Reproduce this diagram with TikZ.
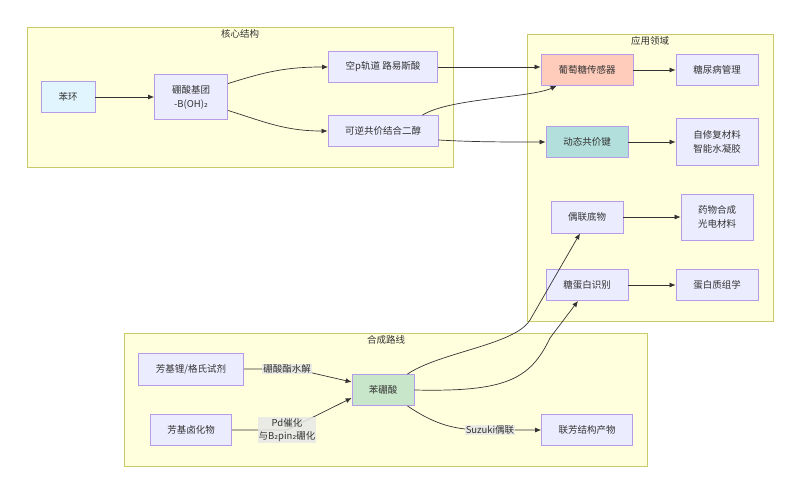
\documentclass[tikz,border=0pt]{standalone}
\usepackage{fontspec}
\setmainfont{Noto Sans CJK SC}
\newfontfamily\dvfam{DejaVu Sans}
\newcommand\subtwo{{\dvfam ₂}}
\usetikzlibrary{arrows.meta,calc}
\definecolor{clfill}{HTML}{FFFFDE}
\definecolor{clstroke}{HTML}{C9C96A}
\definecolor{ndfill}{HTML}{ECECFF}
\definecolor{ndstroke}{HTML}{B69CE8}
\definecolor{edgec}{HTML}{333333}
\definecolor{txt}{HTML}{333333}
\definecolor{lblbg}{HTML}{E8E8E8}
\definecolor{bluef}{HTML}{E1F5FE}
\definecolor{salmon}{HTML}{FFCCBC}
\definecolor{teal}{HTML}{B2DFDB}
\definecolor{greenf}{HTML}{C8E6C9}
\begin{document}
\begin{tikzpicture}[x=1pt,y=-1pt,
  cluster/.style={draw=clstroke,fill=clfill,line width=0.8pt},
  cltitle/.style={font=\fontsize{9.5}{12}\selectfont,text=txt,inner sep=0},
  nd/.style={draw=ndstroke,fill=ndfill,line width=0.8pt,align=center,inner sep=0,
    text=txt,font=\fontsize{9.5}{14}\selectfont},
  lbl/.style={fill=lblbg,fill opacity=0.85,text opacity=1,text=txt,align=center,inner sep=1pt,
    font=\fontsize{9.5}{13}\selectfont},
  arr/.style={draw=edgec,line width=0.7pt,-{Latex[length=6pt,width=5pt]}}
]
\useasboundingbox (0,0) rectangle (800,493);
\fill[white] (0,0) rectangle (800,493);
% clusters
\draw[cluster] (27,27) rectangle (453,167);
\node[cltitle] (t1) at (240,34) {核心结构};
\draw[cluster] (527,34) rectangle (773,321);
\node[cltitle] (t2) at (650,41) {应用领域};
\draw[cluster] (124,333) rectangle (647,466);
\node[cltitle] (t3) at (386,340) {合成路线};
% nodes
\node[nd,fill=bluef,minimum width=54pt,minimum height=31pt] (bh) at (68,97) {苯环};
\node[nd,minimum width=73pt,minimum height=45pt] (ps) at (191,97) {硼酸基团\\-B(OH)\subtwo};
\node[nd,minimum width=109pt,minimum height=31pt] (kp) at (383,67) {空p轨道 路易斯酸};
\node[nd,minimum width=110pt,minimum height=31pt] (kr) at (383,131) {可逆共价结合二醇};
\node[nd,fill=salmon,minimum width=92pt,minimum height=31pt] (gs) at (587,70) {葡萄糖传感器};
\node[nd,minimum width=82pt,minimum height=31pt] (tn) at (717,70) {糖尿病管理};
\node[nd,fill=teal,minimum width=82pt,minimum height=31pt] (dc) at (587,142) {动态共价键};
\node[nd,minimum width=82pt,minimum height=47pt] (zx) at (717,142) {自修复材料\\智能水凝胶};
\node[nd,minimum width=72pt,minimum height=32pt] (ou) at (587,217) {偶联底物};
\node[nd,minimum width=72pt,minimum height=46pt] (yw) at (717,217) {药物合成\\光电材料};
\node[nd,minimum width=82pt,minimum height=31pt] (tg) at (587,285) {糖蛋白识别};
\node[nd,minimum width=82pt,minimum height=31pt] (dz) at (717,285) {蛋白质组学};
\node[nd,minimum width=105pt,minimum height=32pt] (fl) at (191,369) {芳基锂/格氏试剂};
\node[nd,minimum width=81pt,minimum height=31pt] (fh) at (191,430) {芳基卤化物};
\node[nd,fill=greenf,minimum width=62pt,minimum height=31pt] (pb) at (383,390) {苯硼酸};
\node[nd,minimum width=91pt,minimum height=31pt] (lf) at (587,430) {联芳结构产物};
% edges
\draw[arr] (bh.east) -- (ps.west);
\draw[arr] (ps.20) .. controls (265,72) and (285,67) .. (kp.west);
\draw[arr] (ps.-20) .. controls (265,122) and (285,131) .. (kr.west);
\draw[arr] (kp.east) -- (kp.east -| gs.west);
\draw[arr] ($(kr.north east)+(-16,0)$) .. controls (450,98) and (530,98) .. ($(gs.south west)+(16,0)$);
\draw[arr] ($(kr.east)+(0,9)$) .. controls (475,142) and (500,142) .. (dc.west);
\draw[arr] (gs.east) -- (tn.west);
\draw[arr] (dc.east) -- (zx.west);
\draw[arr] (ou.east) -- (yw.west);
\draw[arr] (tg.east) -- (dz.west);
\draw[arr] ($(pb.north east)+(-7,0)$) .. controls (440,352) and (515,345) .. (530,320) -- ($(ou.south)+(-7,0)$);
\draw[arr] (pb.east) .. controls (505,392) and (530,380) .. (550,338) -- ($(tg.south)+(-9,0)$);
\draw[arr] ($(pb.south east)+(-7,0)$) .. controls (440,428) and (460,430) .. (490,430) -- (lf.west);
\draw[arr] (fl.east) -- (295,369) -- ($(pb.west)+(0,-8)$);
\draw[arr] (fh.east) -- (287,430) -- ($(pb.west)+(0,8)$);
% edge labels
\node[lbl] (l1) at (287,369) {硼酸酯水解};
\node[lbl] (l2) at (287,430) {Pd催化\\与B\subtwo pin\subtwo 硼化};
\node[lbl] (l3) at (490,430) {Suzuki偶联};
\end{tikzpicture}
\end{document}
